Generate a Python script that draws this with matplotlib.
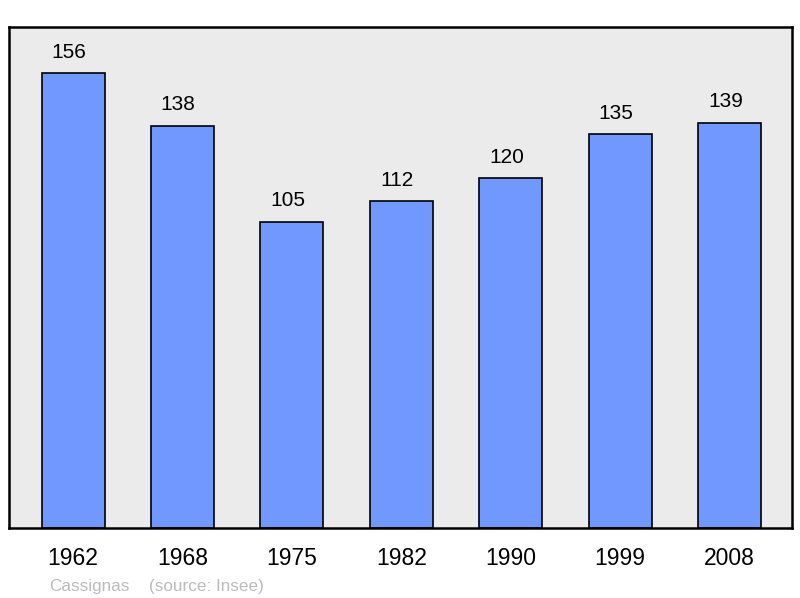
import matplotlib.pyplot as plt

years = ['1962', '1968', '1975', '1982', '1990', '1999', '2008']
population = [156, 138, 105, 112, 120, 135, 139]

plt.rcParams['font.family'] = ['Liberation Sans', 'DejaVu Sans']

fig = plt.figure(figsize=(8, 5.98), dpi=100)
ax = fig.add_axes([0.01125, 0.117, 0.97875, 0.8378])
ax.set_facecolor('#ebebeb')

x = range(len(years))
bars = ax.bar(x, population, width=0.576, color='#7098ff',
              edgecolor='black', linewidth=1.2)

# value labels sit a little left of the bar centre, as in the original
for xi, v in zip(x, population):
    ax.annotate(str(v), (xi, v), xytext=(-3, 15), textcoords='offset points',
                ha='center', va='center', fontsize=15)

ax.set_xlim(-0.585, 6.57)
ax.set_ylim(0, 171.8)
ax.set_xticks(list(x))
ax.set_xticklabels(years, fontsize=16.5)
ax.tick_params(axis='x', length=0, pad=14)
ax.set_yticks([])
for s in ax.spines.values():
    s.set_linewidth(1.8)

fig.text(49 / 800, 1 - 586 / 598, 'Cassignas', color='#bbbbbb',
         fontsize=12.3, va='center')
fig.text(149 / 800, 1 - 586 / 598, '(source: Insee)', color='#bbbbbb',
         fontsize=12.3, va='center')

fig.savefig('out.png', dpi=100)
